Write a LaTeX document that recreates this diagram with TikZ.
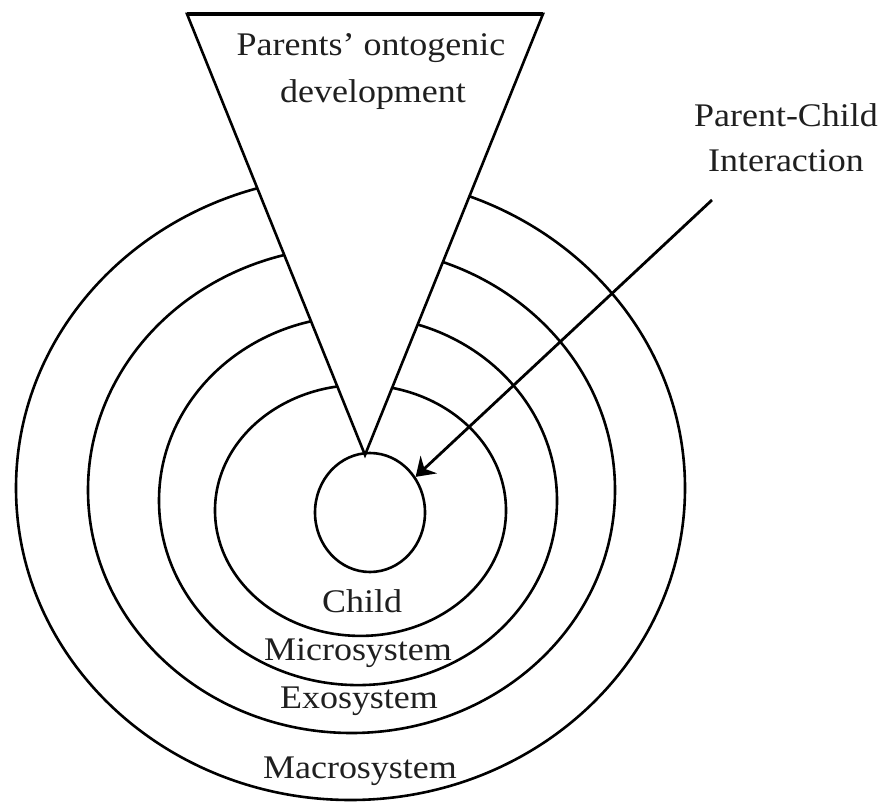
\documentclass[tikz,border=0pt]{standalone}
\usepackage{fontspec}
\setmainfont{Liberation Serif}[FakeStretch=1.09]
\usetikzlibrary{shapes.geometric,arrows.meta}
\begin{document}
\begin{tikzpicture}[x=1pt,y=-1pt,
  ring/.style={draw, ellipse, line width=2.6pt, inner sep=0pt},
  lbl/.style={font=\fontsize{33}{40}\selectfont, anchor=base, inner sep=0pt, text=black!88},
  wedge/.style={draw, fill=white, line width=2.6pt, line join=miter},
  pointer/.style={line width=2.8pt, -{Stealth[length=18pt, width=24pt, inset=6pt]}}]
\useasboundingbox (0,0) rectangle (886,805);

% nested system rings, outermost first
\node[ring, minimum width=669pt, minimum height=624pt] (macro) at (350.5,488) {};
\node[ring, minimum width=527pt, minimum height=486pt] (exo) at (351.5,490) {};
\node[ring, minimum width=398pt, minimum height=369pt] (micro) at (358,500.6) {};
\node[ring, minimum width=291pt, minimum height=251pt] (inner) at (360.5,510.4) {};

% wedge of the parents' development, cutting through the rings
\coordinate (wedgeL) at (187,14);
\coordinate (wedgeR) at (543,14);
\coordinate (wedgeTip) at (365,455);
\draw[wedge] (wedgeL) -- (wedgeR) -- (wedgeTip) -- cycle;
\draw[line width=3.4pt] (wedgeL) -- (wedgeR);

% the child at the centre
\node[ring, minimum width=110pt, minimum height=119pt] (child) at (370,512.5) {};

% texts
\node[lbl] (parents1) at (371,56) {Parents’ ontogenic};
\node[lbl] (parents2) at (373,103) {development};
\node[lbl] (pc1) at (786,127) {Parent-Child};
\node[lbl] (pc2) at (786,172) {Interaction};
\node[lbl] (childtxt) at (362,612) {Child};
\node[lbl] (microtxt) at (358,660) {Microsystem};
\node[lbl] (exotxt) at (359,708) {Exosystem};
\node[lbl] (macrotxt) at (360,778) {Macrosystem};

% parent-child interaction arrow
\coordinate (pcfrom) at (712,200);
\draw[pointer] (pcfrom) -- (child.38);
\end{tikzpicture}
\end{document}
